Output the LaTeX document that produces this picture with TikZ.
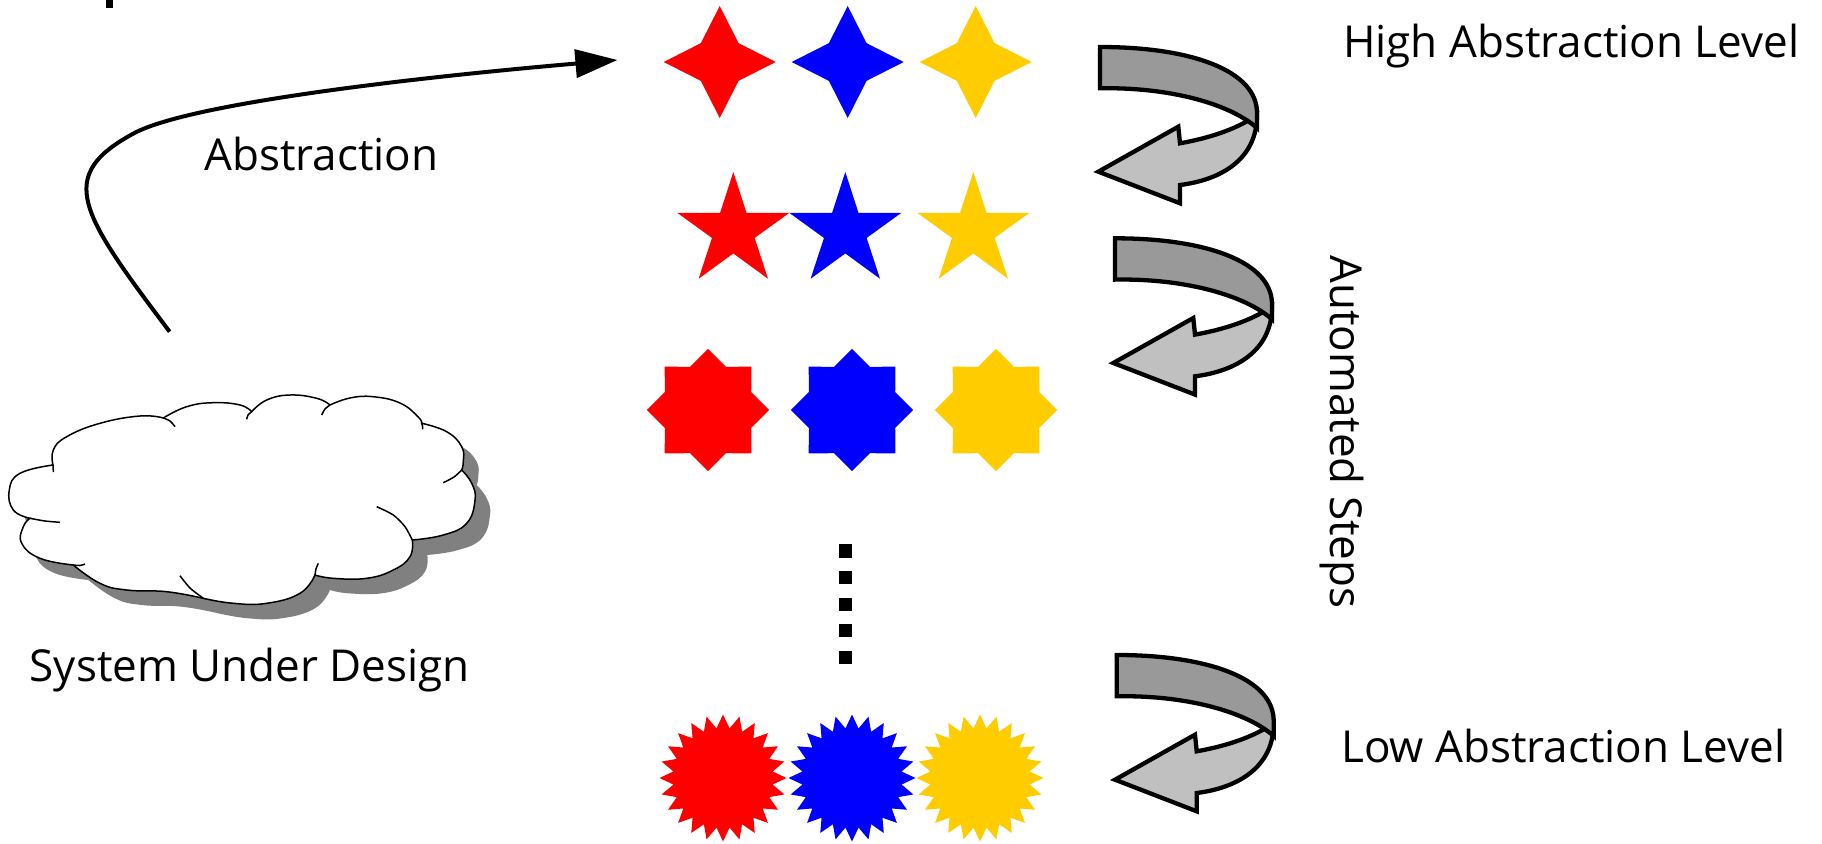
\documentclass[tikz,border=0pt]{standalone}
\usepackage{fontspec}
\setmainfont{Open Sans}
\usetikzlibrary{shapes.geometric,arrows.meta}

\definecolor{starred}{RGB}{255,0,0}
\definecolor{starblue}{RGB}{0,0,255}
\definecolor{staryellow}{RGB}{255,204,0}
\definecolor{ribbondark}{RGB}{153,153,153}
\definecolor{ribbonlight}{RGB}{192,192,192}
\definecolor{cloudshadow}{RGB}{128,128,128}

\tikzset{
  lbl/.style={inner sep=0pt, font=\fontsize{44}{52}\selectfont},
  starbase/.style={star, inner sep=0pt, outer sep=0pt, draw=none},
  fourstar/.style={starbase, star points=4, star point ratio=2.1, minimum size=112pt},
  fivestar/.style={starbase, star points=5, star point ratio=2.63, minimum size=118pt},
  eightstar/.style={starbase, star points=8, star point ratio=1.308, minimum size=122.4pt},
  burststar/.style={starbase, star points=24, star point ratio=1.27, minimum size=127pt},
  lobe/.style={smooth, tension=0.75},
  % curled ribbon arrow turning back to the left
  turnarrow/.pic={
    \path[draw=black, fill=ribbonlight, line width=4.3]
      (80,138) -- (80,156.3) -- (-1.7,124.7) -- (78.3,79.7) -- (80,96.3)
      .. controls (115,90) and (140,80) .. (157,68)
      .. controls (157,113) and (120,133) .. (80,138) -- cycle;
    \path[draw=black, fill=ribbondark, line width=4.3]
      (0,0) .. controls (90,0) and (157,23) .. (157,66) -- (157,81)
      .. controls (130,57) and (70,40) .. (0,41.3) -- cycle;
  },
  % cloud outline made of lobes
  cloudbody/.pic={
    \path[pic actions]
      plot[lobe] coordinates {(53,465) (53.3,450) (66.7,436.7) (100,423.3) (140,416) (163.3,418)}
      -- plot[lobe] coordinates {(163.3,418) (186.7,406.7) (213.3,402.7) (240,405) (251.7,411.7)}
      -- plot[lobe] coordinates {(251.7,411.7) (266.7,400) (290,395) (316.7,398.3) (330,405)}
      -- plot[lobe] coordinates {(330,405) (350,398) (373,396.7) (400,403) (418,416.7) (421.7,423.3)}
      -- plot[lobe] coordinates {(421.7,423.3) (446.7,431.7) (461.7,446.7) (463.3,461.7) (461.7,470)}
      -- plot[lobe] coordinates {(461.7,470) (471.7,483.3) (475,500) (466.7,523.3) (443.3,535) (412.3,540)}
      -- plot[lobe] coordinates {(412.3,540) (410,556.7) (393.3,570) (366.7,578.3) (333.3,578.3) (315,575)}
      -- plot[lobe] coordinates {(315,575) (300,593.3) (266.7,603.3) (233.3,603.3) (203.3,598.3)}
      -- plot[lobe] coordinates {(203.3,598.3) (166.7,591.7) (126.7,590) (100,583.3) (73.3,565)}
      -- plot[lobe] coordinates {(73.3,565) (40,558.3) (21.7,543.3) (23.3,526.7) (30,518.3)}
      -- plot[lobe] coordinates {(30,518.3) (13.3,510) (9.3,490) (20,473.3) (53,465)}
      -- cycle;
  },
  cloudlobes/.pic={
    \draw[line width=1.5]
      plot[smooth] coordinates {(163.3,418) (170,421) (175,426.7)}
      plot[smooth] coordinates {(251.7,411.7) (248,415) (246.7,419.3)}
      plot[smooth] coordinates {(330,405) (325,409) (321.7,415)}
      plot[smooth] coordinates {(421.7,423.3) (422.5,426) (422.7,429.3)}
      plot[smooth] coordinates {(461.7,470) (454,477) (443.3,482.7)}
      plot[smooth] coordinates {(412.3,540) (405,526.7) (393.3,515) (376.7,506.7)}
      plot[smooth] coordinates {(315,575) (316,569) (318.3,563.3)}
      plot[smooth] coordinates {(203.3,598.3) (190,588) (180,575.7)}
      plot[smooth] coordinates {(73.3,565) (80,565.5) (85,564)}
      plot[smooth] coordinates {(30,518.3) (45,521) (60,522.3)}
      plot[smooth] coordinates {(53,465) (53.2,468) (53.3,472)};
  }
}

\begin{document}
\begin{tikzpicture}[x=1pt, y=-1pt]
  \useasboundingbox (0,0) rectangle (1822,843);
  \fill[white] (0,0) rectangle (1822,843);

  % small mark at the top edge
  \fill (105.8,0) rectangle (112.5,8.3);

  % system under design
  \pic[fill=cloudshadow] at (15,15) {cloudbody};
  \pic[fill=white, draw=black, line width=1.5] at (0,0) {cloudbody};
  \pic at (0,0) {cloudlobes};
  \node[lbl, anchor=base west] (sud) at (29.5,681.7) {System Under Design};

  % abstraction arrow
  \coordinate (absStart) at (169.6,331.7);
  \coordinate (absEnd) at (617.4,60);
  \draw[line width=4, -{Triangle[length=42pt, width=28pt]}]
    (absStart) .. controls (80,212.5) and (54.7,176) .. (133.9,133.3)
    .. controls (190,103) and (420,77) .. (absEnd);
  \node[lbl, anchor=base west] (abs) at (204,170) {Abstraction};

  % four-pointed stars
  \node[fourstar, fill=starred]    (h1) at (719.7,62) {};
  \node[fourstar, fill=starblue]   (h2) at (847.7,62) {};
  \node[fourstar, fill=staryellow] (h3) at (975.7,62) {};

  % five-pointed stars
  \node[fivestar, fill=starred]    (f1) at (733.3,231) {};
  \node[fivestar, fill=starblue]   (f2) at (845.3,231) {};
  \node[fivestar, fill=staryellow] (f3) at (973.3,231) {};

  % eight-pointed stars
  \node[eightstar, fill=starred]    (e1) at (708,410) {};
  \node[eightstar, fill=starblue]   (e2) at (852,410) {};
  \node[eightstar, fill=staryellow] (e3) at (996,410) {};

  % ellipsis
  \coordinate (dotTop) at (845.7,544.3);
  \coordinate (dotBot) at (845.7,664.3);
  \draw[line width=13.3, dash pattern=on 13.3pt off 13.3pt] (dotTop) -- (dotBot);

  % starbursts
  \node[burststar, fill=starred]    (b1) at (723,778) {};
  \node[burststar, fill=starblue]   (b2) at (852,778) {};
  \node[burststar, fill=staryellow] (b3) at (980,778) {};

  % refinement steps
  \pic (t1) at (1100,47) {turnarrow};
  \pic (t2) at (1115,238.3) {turnarrow};
  \pic (t3) at (1116.7,655) {turnarrow};

  \node[lbl, anchor=base west] (high) at (1343,57.3) {High Abstraction Level};
  \node[lbl, anchor=base west] (low) at (1341,762.3) {Low Abstraction Level};
  \node[lbl, anchor=base west, rotate=-90] (auto) at (1330,255) {Automated Steps};
\end{tikzpicture}
\end{document}
